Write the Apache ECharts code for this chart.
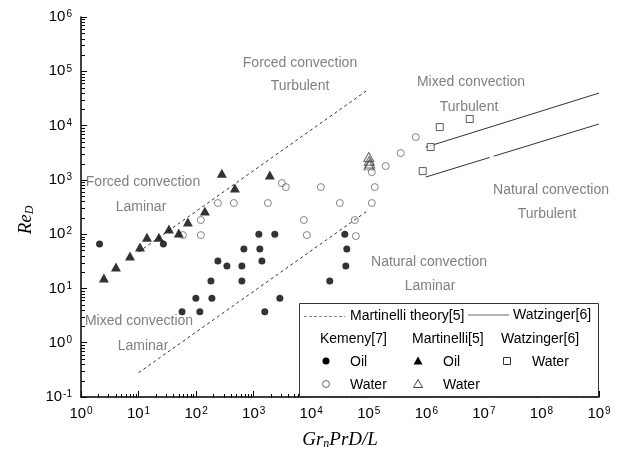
<!DOCTYPE html>
<html><head><meta charset="utf-8">
<script src="https://cdn.jsdelivr.net/npm/echarts@6/dist/echarts.min.js"></script>
<style>html,body{margin:0;padding:0;background:#fff}#c{width:617px;height:461px}</style>
</head><body><div id="c"></div>
<script>
// ---- data (x = Gr_n Pr D/L, y = Re_D) ----
const kemenyOil = [[2.1,66],[27,66],[57,3.7],[116,3.7],[99,6.6],[188,6.6],[181,13.7],[239,32],[343,26],[624,26],[624,13.7],[676,53],[1280,53],[1230,100],[2330,100],[1390,32],[2850,6.6],[1560,3.7],[21000,13.7],[38300,100],[41500,53],[39900,26]];
const kemenyWater = [[59,96],[121,182],[121,96],[239,374],[453,374],[1765,374],[3090,873],[3625,736],[7445,182],[8390,96],[14700,736],[31400,374],[57200,182],[59500,92],[112800,374],[127000,736],[112800,1390],[197000,1795],[359000,3120],[655000,6140]];
const martinelliOil = [[2.5,15.6],[4.05,24.8],[7.1,39.5],[10.6,58],[14,88],[22.6,88],[33.7,124],[50,105],[72,167],[142,266],[280,1330],[472,706],[1910,1225]];
const martinelliWater = [[100000,2630],[102000,2250],[104000,2000],[101000,1850]];
const watzingerWater = [[866000,1450],[1190000,4020],[1710000,9380],[5670000,13200]];
const martinelliTheoryUpper = [[10,47],[90000,43300]];
const martinelliTheoryLower = [[10,0.28],[90000,258]];
const watzingerUpper = [[977000,4000],[1e9,39700]];
const watzingerLowerA = [[977000,1127],[1.26e7,2585]];
const watzingerLowerB = [[1.48e7,2725],[1e9,10700]];
const xTickExponents = [0,1,2,3,4,5,6,7,8,9];
const yTickExponents = [-1,0,1,2,3,4,5,6];

// minor tick positions (axis decoration: 2..9 x 10^k)
const xMinor = [], yMinor = [];
xTickExponents.slice(0,-1).forEach(k => { for (let m=2;m<10;m++) xMinor.push([m*Math.pow(10,k), 0.1]); });
yTickExponents.slice(0,-1).forEach(k => { for (let m=2;m<10;m++) yMinor.push([1, m*Math.pow(10,k)]); });

const chart = echarts.init(document.getElementById('c'), null, {renderer:'canvas'});
const supRich = {
  b:{fontSize:15, fontFamily:'Liberation Sans', color:'#000'},
  s:{fontSize:10, fontFamily:'Liberation Sans', color:'#000', verticalAlign:'top', padding:[0,0,0,1]}
};
function powLabel(v){ const e = Math.round(Math.log10(v)); return '{b|10}{s|' + e + '}'; }
const gray = '#808080';
const annFont = {fontSize:14, fontFamily:'Liberation Sans', fill:gray, align:'center', verticalAlign:'middle'};
function ann(x,y,t){ return {type:'text', x:x, y:y, style:Object.assign({text:t}, annFont), z:50}; }
const legFont = {fontSize:14, fontFamily:'Liberation Sans', fill:'#000', align:'left', verticalAlign:'middle'};
function leg(x,y,t){ return {type:'text', x:x, y:y, style:Object.assign({text:t}, legFont), z:101}; }

function lineSeries(data, dashed){
  return {type:'line', data:data, symbol:'none', silent:true, z:2,
    lineStyle:{color:'#333', width:1, type: dashed ? [3,3] : 'solid'}};
}
function tickSeries(data, isX){
  return {type:'custom', data:data, silent:true, z:1,
    renderItem:function(params, api){
      const p = api.coord([api.value(0), api.value(1)]);
      const x = Math.round(p[0]) + 0.5, y = Math.round(p[1]) + 0.5;
      return {type:'line', shape: isX ? {x1:x,y1:y,x2:x,y2:y-3.5} : {x1:x,y1:y,x2:x+3.5,y2:y},
        style:{stroke:'#000', lineWidth:1}};
    }};
}

chart.setOption({
  animation:false,
  backgroundColor:'#fff',
  grid:{left:81, right:18, top:17, bottom:64},
  xAxis:{type:'log', logBase:10, min:1, max:1e9, interval:1,
    axisLine:{lineStyle:{color:'#000', width:1.5}},
    axisTick:{inside:true, length:6, lineStyle:{color:'#000'}},
    splitLine:{show:false},
    axisLabel:{margin:9, formatter:powLabel, rich:supRich}},
  yAxis:{type:'log', logBase:10, min:0.1, max:1e6, interval:1,
    axisLine:{show:true, lineStyle:{color:'#000', width:1.5}},
    axisTick:{show:true, inside:true, length:6, lineStyle:{color:'#000'}},
    splitLine:{show:false},
    axisLabel:{margin:9, formatter:powLabel, rich:supRich}},
  series:[
    tickSeries(xMinor, true),
    tickSeries(yMinor, false),
    lineSeries(martinelliTheoryUpper, true),
    lineSeries(martinelliTheoryLower, true),
    lineSeries(watzingerUpper, false),
    lineSeries(watzingerLowerA, false),
    lineSeries(watzingerLowerB, false),
    {type:'scatter', name:'Kemeny Oil', data:kemenyOil, symbol:'circle', symbolSize:7, z:5,
      itemStyle:{color:'#000'}},
    {type:'scatter', name:'Kemeny Water', data:kemenyWater, symbol:'circle', symbolSize:7, z:5,
      itemStyle:{color:'rgba(255,255,255,0)', borderColor:'#666', borderWidth:1}},
    {type:'scatter', name:'Martinelli Oil', data:martinelliOil, symbol:'triangle', symbolSize:[10,9], z:5,
      itemStyle:{color:'#000'}},
    {type:'scatter', name:'Martinelli Water', data:martinelliWater, symbol:'triangle', symbolSize:[10,9], z:5,
      itemStyle:{color:'rgba(255,255,255,0)', borderColor:'#444', borderWidth:1}},
    {type:'scatter', name:'Watzinger Water', data:watzingerWater, symbol:'rect', symbolSize:7, z:5,
      itemStyle:{color:'#fff', borderColor:'#333', borderWidth:1}}
  ],
  graphic:[
    ann(143,182,'Forced convection'), ann(141,207,'Laminar'),
    ann(300,63,'Forced convection'), ann(300,86,'Turbulent'),
    ann(471,82,'Mixed convection'), ann(469,107,'Turbulent'),
    ann(551,190,'Natural convection'), ann(547,214,'Turbulent'),
    ann(429,262,'Natural convection'), ann(430,286,'Laminar'),
    ann(139,321,'Mixed convection'), ann(143,346,'Laminar'),
    {type:'text', x:26, y:220, rotation:Math.PI/2,
      style:{text:'{a|Re}{d|D}', align:'center', verticalAlign:'middle',
        rich:{a:{fontSize:19, fontFamily:'Liberation Serif', fontStyle:'italic', fill:'#000'},
              d:{fontSize:12, fontFamily:'Liberation Serif', fontStyle:'italic', fill:'#000', verticalAlign:'bottom', padding:[8,0,0,0]}}}},
    {type:'text', x:340, y:440,
      style:{text:'{a|Gr}{d|n}{a|PrD/L}', align:'center', verticalAlign:'middle',
        rich:{a:{fontSize:19, fontFamily:'Liberation Serif', fontStyle:'italic', fill:'#000'},
              d:{fontSize:12, fontFamily:'Liberation Serif', fontStyle:'italic', fill:'#000', verticalAlign:'bottom', padding:[8,0,0,0]}}}},
    // legend box
    {type:'rect', shape:{x:299.5, y:303.5, width:299, height:93}, style:{fill:'#fff', stroke:'#333', lineWidth:1}, z:100},
    {type:'line', shape:{x1:304,y1:316.5,x2:345,y2:316.5}, style:{stroke:'#888', lineWidth:1, lineDash:[3,2]}, z:101},
    leg(350,316,'Martinelli theory[5]'),
    {type:'line', shape:{x1:468,y1:315,x2:509,y2:315}, style:{stroke:'#999', lineWidth:1.5}, z:101},
    leg(513,315,'Watzinger[6]'),
    leg(320,339,'Kemeny[7]'), leg(412,339,'Martinelli[5]'), leg(501,339,'Watzinger[6]'),
    {type:'circle', shape:{cx:326, cy:361, r:3.5}, style:{fill:'#000'}, z:101},
    leg(350,362,'Oil'),
    {type:'polygon', shape:{points:[[413.5,364.5],[422.5,364.5],[418,356.5]]}, style:{fill:'#000'}, z:101},
    leg(443,362,'Oil'),
    {type:'rect', shape:{x:503.5, y:357.5, width:7, height:7}, style:{fill:'#fff', stroke:'#333', lineWidth:1}, z:101},
    leg(532,362,'Water'),
    {type:'circle', shape:{cx:326, cy:384, r:3.5}, style:{fill:'#fff', stroke:'#666', lineWidth:1}, z:101},
    leg(350,385,'Water'),
    {type:'polygon', shape:{points:[[413.5,387.5],[422.5,387.5],[418,379.5]]}, style:{fill:'#fff', stroke:'#444', lineWidth:1}, z:101},
    leg(443,385,'Water')
  ]
});
</script></body></html>
